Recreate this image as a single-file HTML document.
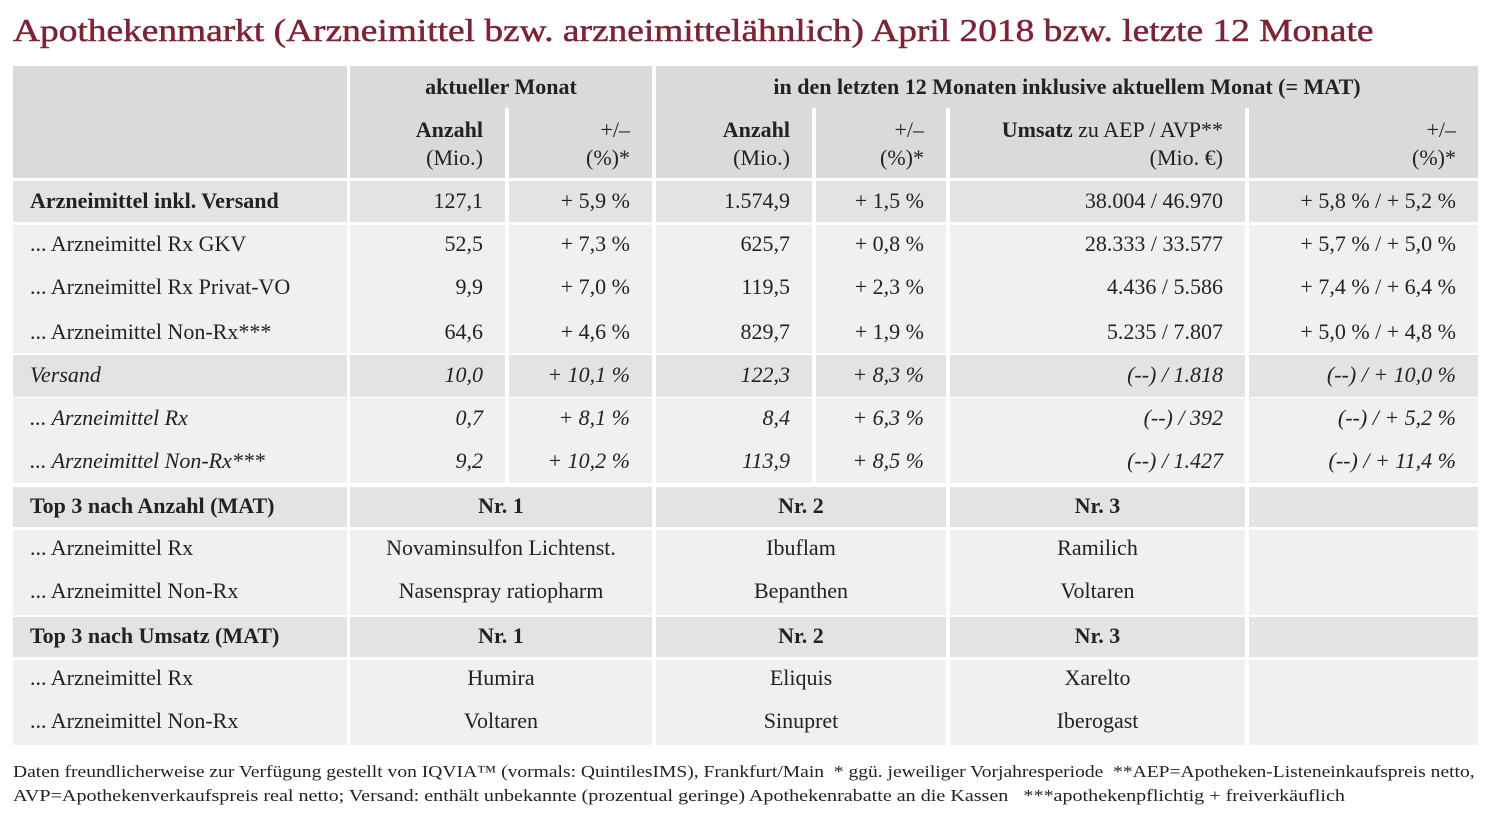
<!DOCTYPE html>
<html><head><meta charset="utf-8">
<style>
body{margin:0;background:#fff;width:1492px;height:827px;overflow:hidden;position:relative;font-family:"Liberation Serif",serif;color:#222}
.bg{position:absolute}
.t{position:absolute;white-space:nowrap;font-size:22px;line-height:26px}
.r{text-align:right}.c{text-align:center}
.b{font-weight:bold}.i{font-style:italic}
#title{position:absolute;left:13px;top:12px;font-size:32px;color:#7b2435;white-space:nowrap;transform-origin:0 0;-webkit-text-stroke:0.5px #7b2435}
.fn{position:absolute;left:13px;font-size:17px;white-space:nowrap;transform-origin:0 0;color:#222}
</style></head><body>
<div id="title">Apothekenmarkt (Arzneimittel bzw. arzneimittelähnlich) April 2018 bzw. letzte 12 Monate</div>
<div id="tbl"></div>
<div class="fn" id="fn1" style="top:762px">Daten freundlicherweise zur Verfügung gestellt von IQVIA™ (vormals: QuintilesIMS), Frankfurt/Main &nbsp;* ggü. jeweiliger Vorjahresperiode &nbsp;**AEP=Apotheken-Listeneinkaufspreis netto,</div>
<div class="fn" id="fn2" style="top:786px">AVP=Apothekenverkaufspreis real netto; Versand: enthält unbekannte (prozentual geringe) Apothekenrabatte an die Kassen &nbsp;&nbsp;***apothekenpflichtig + freiverkäuflich</div>
<script>
const cols=[[13,334],[350,155],[509,143],[656,156],[816,130],[950,295],[1249,229]];
const D='#e3e3e3',L='#f0f0f0',H='#dadada';
const T=document.getElementById('tbl');
function bg(x,y,w,h,c,name){const d=document.createElement('div');d.className='bg';d.style.cssText=`left:${x}px;top:${y}px;width:${w}px;height:${h}px;background:${c}`;


T.appendChild(d);}
function tx(s,x,w,cy,cls,name){const d=document.createElement('div');d.className='t '+(cls||'');d.innerHTML=s;d.style.left=x+'px';d.style.width=w+'px';d.style.top=(cy-13)+'px';


T.appendChild(d);}
// header
bg(13,66,334,112,H,'header-blank');bg(350,66,302,112,H,'header-current-month');bg(656,66,822,112,H,'header-mat');
bg(505,108,4,70,'#fff','header-divider');bg(812,108,4,70,'#fff','header-divider');bg(946,108,4,70,'#fff','header-divider');bg(1245,108,4,70,'#fff','header-divider');
tx('aktueller Monat',350,302,87,'c b','header-aktueller-monat');
tx('in den letzten 12 Monaten inklusive aktuellem Monat (= MAT)',656,822,87,'c b','header-letzte-12-monate');
const hs=[[1,'<b>Anzahl</b>','(Mio.)'],[2,'+/–','(%)*'],[3,'<b>Anzahl</b>','(Mio.)'],[4,'+/–','(%)*'],[5,'<b>Umsatz</b> zu AEP / AVP**','(Mio. €)'],[6,'+/–','(%)*']];
hs.forEach(h=>{const [x,w]=cols[h[0]];tx(h[1],x,w-22,130,'r','column-header');tx(h[2],x,w-22,158,'r','column-header-unit');});
// data rows
const labels=['Arzneimittel inkl. Versand','... Arzneimittel Rx GKV','... Arzneimittel Rx Privat-VO','... Arzneimittel Non-Rx***','Versand','... Arzneimittel Rx','... Arzneimittel Non-Rx***'];
const anzMonth=['127,1','52,5','9,9','64,6','10,0','0,7','9,2'];
const chgMonth=['+ 5,9 %','+ 7,3 %','+ 7,0 %','+ 4,6 %','+ 10,1 %','+ 8,1 %','+ 10,2 %'];
const anzMat=['1.574,9','625,7','119,5','829,7','122,3','8,4','113,9'];
const chgMat=['+ 1,5 %','+ 0,8 %','+ 2,3 %','+ 1,9 %','+ 8,3 %','+ 6,3 %','+ 8,5 %'];
const umsatz=['38.004 / 46.970','28.333 / 33.577','4.436 / 5.586','5.235 / 7.807','(--) / 1.818','(--) / 392','(--) / 1.427'];
const chgUms=['+ 5,8 % / + 5,2 %','+ 5,7 % / + 5,0 %','+ 7,4 % / + 6,4 %','+ 5,0 % / + 4,8 %','(--) / + 10,0 %','(--) / + 5,2 %','(--) / + 11,4 %'];
const rowY=[201,244,287,332,375,418,461];
const blocks=[[181,41,D],[225,128,L],[355,42,D],[398,85,L]];
blocks.forEach(b=>cols.forEach(c=>bg(c[0],b[0],c[1],b[1],b[2],'cell-bg')));
labels.forEach((l,i)=>{const cls=(i==0?'b':'')+(i>=4?' i':'');
tx(l,30,310,rowY[i],cls,'row-label');
const vals=[anzMonth[i],chgMonth[i],anzMat[i],chgMat[i],umsatz[i],chgUms[i]];
vals.forEach((v,j)=>{const [x,w]=cols[j+1];tx(v,x,w-22,rowY[i],'r'+(i>=4?' i':''),'value-cell');});});
// top 3
const mcols=[[13,334],[350,302],[656,290],[950,295],[1249,229]];
const tops=[['Top 3 nach Anzahl (MAT)',487,[['... Arzneimittel Rx','Novaminsulfon Lichtenst.','Ibuflam','Ramilich'],['... Arzneimittel Non-Rx','Nasenspray ratiopharm','Bepanthen','Voltaren']]],
['Top 3 nach Umsatz (MAT)',617,[['... Arzneimittel Rx','Humira','Eliquis','Xarelto'],['... Arzneimittel Non-Rx','Voltaren','Sinupret','Iberogast']]]];
tops.forEach(t=>{const y=t[1];
mcols.forEach(c=>{bg(c[0],y,c[1],40,D,'top3-header-bg');bg(c[0],y+43,c[1],85,L,'top3-body-bg');});
tx(t[0],30,310,y+19,'b','top3-title');
['Nr. 1','Nr. 2','Nr. 3'].forEach((n,k)=>tx(n,mcols[k+1][0],mcols[k+1][1],y+19,'c b','rank-header'));
t[2].forEach((r,ri)=>{const cy=y+61+ri*43;tx(r[0],30,310,cy,'','top3-row-label');
for(let k=1;k<4;k++)tx(r[k],mcols[k][0],mcols[k][1],cy,'c','product-name');});});
function fit(id,w){const e=document.getElementById(id);const s=w/e.scrollWidth;e.style.transform=`scaleX(${s})`;}
fit('title',1360);fit('fn1',1462);fit('fn2',1332);
</script>
</body></html>
